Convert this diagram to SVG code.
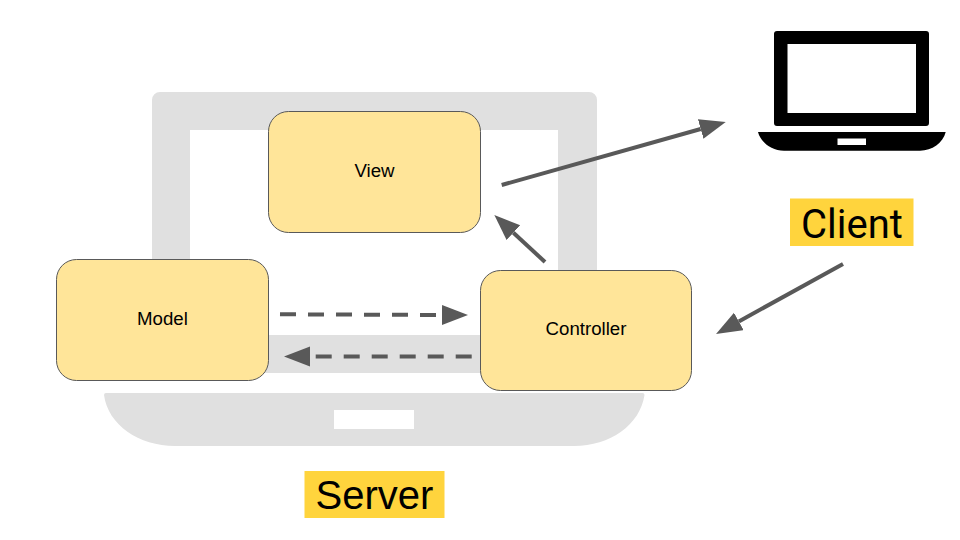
<svg xmlns="http://www.w3.org/2000/svg" width="960" height="540" viewBox="0 0 960 540">
  <style>
    .box { fill: #ffe599; stroke: #595959; stroke-width: 1; }
    .nodetext { font-family: "Liberation Sans", Arial, sans-serif; font-size: 18.670px; fill: #000; text-anchor: middle; }
    .tag { fill: #ffd43d; }
    .conn { fill: none; stroke: #595959; stroke-width: 4; marker-end: url(#head); }
    .dash { stroke-dasharray: 16 12; }
  </style>
  <defs>
    <marker id="head" markerUnits="userSpaceOnUse" markerWidth="27" markerHeight="21" refX="0" refY="10" orient="auto">
      <path d="M0,0 L26,10 L0,20 Z" fill="#595959"/>
    </marker>
  </defs>
  <rect width="960" height="540" fill="#fff"/>
  <g id="server-laptop">
    <path fill="#e0e0e0" fill-rule="evenodd" d="M160,92 H589 A8,8 0 0 1 597,100 V373 H152 V100 A8,8 0 0 1 160,92 Z M190,130 V335 H558 V130 Z"/>
    <path fill="#e0e0e0" fill-rule="evenodd" d="M106,393 H642.500 A2,2 0 0 1 644.500,395 C640,425 610,446 574,446 H175 C139,446 108,425 104,395 A2,2 0 0 1 106,393 Z M334,410 V429 H414 V410 Z"/>
  </g>
  <g id="client-laptop">
    <path fill="#000" fill-rule="evenodd" d="M777,31 H926 A3,3 0 0 1 929,34 V123 A3,3 0 0 1 926,126 H777 A3,3 0 0 1 774,123 V34 A3,3 0 0 1 777,31 Z M787.500,44 V113 H916 V44 Z"/>
    <path fill="#000" fill-rule="evenodd" d="M758,132 H945.700 C943,143 932,150.700 920,150.700 H784 C772,150.700 761,143 758,132 Z M837.500,138.500 V145 H866 V138.500 Z"/>
  </g>
  <g id="view">
    <rect class="box" x="268.500" y="111.500" width="212" height="121" rx="20" ry="20"/>
    <text class="nodetext" x="374.500" y="177">View</text>
  </g>
  <g id="model">
    <rect class="box" x="56.500" y="259.500" width="212" height="121" rx="20" ry="20"/>
    <text class="nodetext" x="162.500" y="325">Model</text>
  </g>
  <g id="controller">
    <rect class="box" x="480.500" y="270.500" width="211" height="120" rx="20" ry="20"/>
    <text class="nodetext" x="586" y="335">Controller</text>
  </g>
  <g id="client-label">
    <rect class="tag" x="790" y="198.500" width="123.500" height="47.500"/>
    <text x="852" y="238" font-family="Roboto, 'Liberation Sans', sans-serif" font-size="40" text-anchor="middle" fill="#000">Client</text>
  </g>
  <g id="server-label">
    <rect class="tag" x="304.500" y="471" width="140" height="47"/>
    <text x="374.500" y="509" font-family="'Liberation Sans', Arial, sans-serif" font-size="40" text-anchor="middle" fill="#000">Server</text>
  </g>
  <g id="connectors">
    <line class="conn" x1="501.700" y1="185" x2="700.700" y2="129"/>
    <line class="conn" x1="545" y1="262" x2="513.400" y2="232.700"/>
    <line class="conn" x1="843" y1="264" x2="738.800" y2="321.400"/>
    <line class="conn dash" x1="280" y1="314.300" x2="442" y2="315"/>
    <line class="conn dash" x1="471.700" y1="356.500" x2="310" y2="356.500"/>
  </g>
</svg>
